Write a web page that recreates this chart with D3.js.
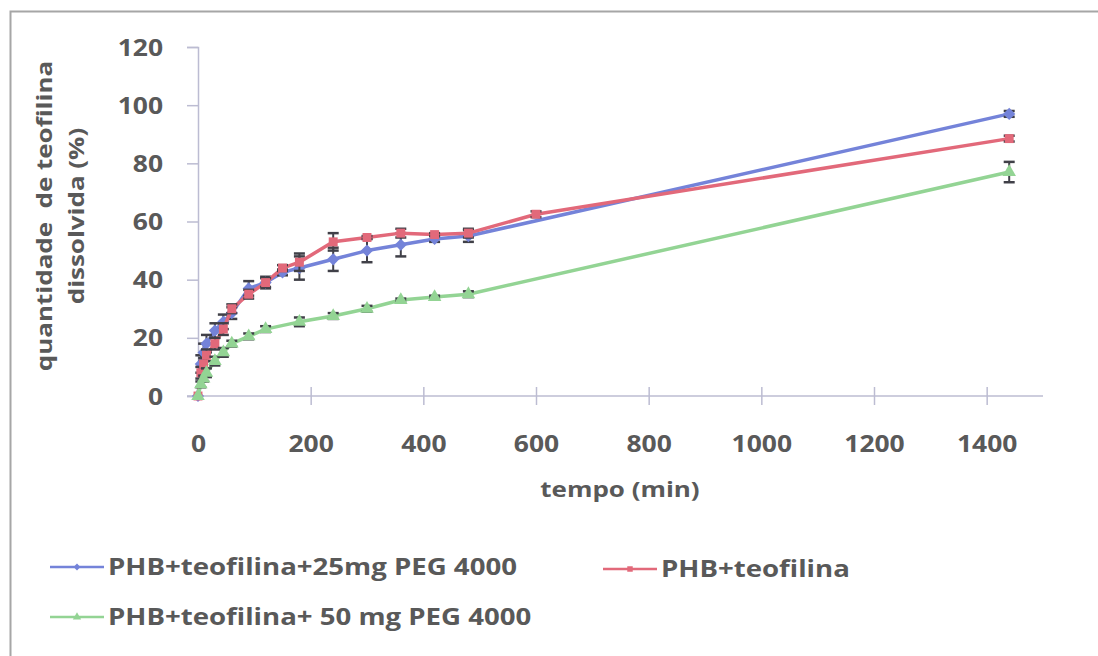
<!DOCTYPE html>
<html>
<head>
<meta charset="utf-8">
<script src="https://cdn.jsdelivr.net/npm/d3@7"></script>
<style>
  html, body { margin: 0; padding: 0; background: #fff; }
  svg { display: block; }
  text { font-family: "Open Sans", "Liberation Sans", sans-serif; font-weight: 700; fill: #595959; }
</style>
</head>
<body>
<svg id="chart" width="1098" height="656"></svg>
<script>
// Dissolution profiles: sampling times (min) and % theophylline dissolved
const timesBlue  = [0, 5, 10, 15, 30, 45, 60, 90, 120, 150, 180, 240, 300, 360, 420, 480, 1440];
const valuesBlue = [0, 11, 15, 18, 22.5, 25.5, 28.5, 37, 39, 42.5, 44, 47, 50, 52, 54, 55, 97];
const errBlue    = [0, 3, 3, 3, 2.5, 2.5, 2, 2.5, 2, 1, 4, 4, 4, 4, 1, 2, 1];

const timesRed  = [0, 5, 10, 15, 30, 45, 60, 90, 120, 150, 180, 240, 300, 360, 420, 480, 600, 1440];
const valuesRed = [0, 8, 11, 14, 18, 23, 30, 35, 39, 44, 46, 53, 54.5, 56, 55.5, 56, 62.5, 88.5];
const errRed    = [0, 2, 2, 2, 2, 2, 1.5, 1.5, 1.5, 1, 3, 3, 0.5, 1.5, 0.5, 1.5, 1, 1];

const timesGreen  = [0, 5, 10, 15, 30, 45, 60, 90, 120, 180, 240, 300, 360, 420, 480, 1440];
const valuesGreen = [0, 4, 6, 8, 12, 15, 18, 20.5, 23, 25.5, 27.5, 30, 33, 34, 35, 77];
const errGreen    = [0, 1, 1, 1.5, 1.5, 1.5, 1, 1, 1, 1.5, 1, 1, 0.5, 0.5, 1, 3.5];

const seriesNames = ["PHB+teofilina+25mg PEG 4000", "PHB+teofilina", "PHB+teofilina+ 50 mg PEG 4000"];
const xTicks = [0, 200, 400, 600, 800, 1000, 1200, 1400];
const yTicks = [0, 20, 40, 60, 80, 100, 120];
const xTitle = "tempo (min)";
const yTitleLines = ["quantidade\u00a0 de teofilina", "dissolvida (%)"];

const series = [
  { name: seriesNames[0], t: timesBlue,  v: valuesBlue,  e: errBlue,  color: "#7483d9", shape: d3.symbolDiamond2, size: 95 },
  { name: seriesNames[1], t: timesRed,   v: valuesRed,   e: errRed,   color: "#e2697a", shape: d3.symbolSquare,  size: 80 },
  { name: seriesNames[2], t: timesGreen, v: valuesGreen, e: errGreen, color: "#93d494", shape: d3.symbolTriangle, size: 80 }
];

const svg = d3.select("#chart");
const axisColor = "#bcbcd2";
const errColor = "#404048";
const stretch = 1.15;   // wide lettering

// outer frame
svg.append("rect")
  .attr("x", 10.5).attr("y", 11.5)
  .attr("width", 1100).attr("height", 700)
  .attr("fill", "#fff").attr("stroke", "#a6a6a6").attr("stroke-width", 2);

const x = d3.scaleLinear().domain([0, 1500]).range([198, 1043]);
const y = d3.scaleLinear().domain([0, 120]).range([396, 47]);
const fmt = d3.format("d");

// y axis
const yAxis = svg.append("g").attr("transform", `translate(${x(0)},0)`)
  .call(d3.axisLeft(y).tickValues(yTicks).tickFormat(fmt).tickSize(11));
yAxis.select(".domain").attr("stroke", axisColor).attr("stroke-width", 1.5);
yAxis.selectAll(".tick line").attr("stroke", axisColor).attr("stroke-width", 1.5);
yAxis.selectAll(".tick text")
  .attr("x", 0).attr("dy", "0.35em")
  .attr("transform", `translate(-35,0) scale(${stretch},1)`)
  .style("font-size", "23px").attr("fill", "#595959");

// x axis line spans from the y tick ends to the right of the domain
svg.append("line")
  .attr("x1", x(0) - 11).attr("x2", x(1500))
  .attr("y1", y(0)).attr("y2", y(0))
  .attr("stroke", axisColor).attr("stroke-width", 1.5);
const xAxis = svg.append("g").attr("transform", `translate(0,${y(0)})`)
  .call(d3.axisBottom(x).tickValues(xTicks).tickFormat(fmt).tickSize(9));
xAxis.select(".domain").remove();
xAxis.selectAll(".tick line")
  .attr("y1", -9)
  .attr("stroke", axisColor).attr("stroke-width", 1.5)
  .attr("display", d => d === 0 ? "none" : null);
xAxis.selectAll(".tick text")
  .attr("y", 0).attr("dy", "0.35em")
  .attr("transform", `translate(0,48) scale(${stretch},1)`)
  .style("font-size", "23px").attr("fill", "#595959");

// axis titles
svg.append("text")
  .attr("transform", `translate(620,497) scale(${stretch + 0.03},1)`)
  .attr("text-anchor", "middle")
  .style("font-size", "22px")
  .text(xTitle);

yTitleLines.forEach((line, i) => {
  svg.append("text")
    .attr("transform", `translate(${52 + i * 32},216) rotate(-90) scale(${stretch + 0.03},1)`)
    .attr("text-anchor", "middle")
    .style("font-size", "22px")
    .text(line);
});

// series: line, error bars, markers
const lineGen = d3.line().x(d => x(d[0])).y(d => y(d[1]));
series.forEach(s => {
  const pts = s.t.map((t, i) => [t, s.v[i], s.e[i]]);
  svg.append("path")
    .datum(pts)
    .attr("d", lineGen)
    .attr("fill", "none")
    .attr("stroke", s.color)
    .attr("stroke-width", 3.5)
    .attr("stroke-linejoin", "round");

  const eb = svg.append("g");
  pts.filter(d => d[2] > 0).forEach(d => {
    const cx = x(d[0]);
    const yt = y(d[1] + d[2]), yb = y(d[1] - d[2]);
    eb.append("line").attr("x1", cx).attr("x2", cx).attr("y1", yt).attr("y2", yb)
      .attr("stroke", errColor).attr("stroke-width", 2);
    [yt, yb].forEach(yy => eb.append("line")
      .attr("x1", cx - 5.5).attr("x2", cx + 5.5).attr("y1", yy).attr("y2", yy)
      .attr("stroke", errColor).attr("stroke-width", 2.5));
  });

  svg.append("g").selectAll("path")
    .data(pts)
    .join("path")
    .attr("transform", d => `translate(${x(d[0])},${y(d[1])})`)
    .attr("d", d3.symbol().type(s.shape).size(s.size))
    .attr("fill", s.color);
});

// legend
const legendItems = [
  { s: series[0], x0: 50, y0: 567 },
  { s: series[1], x0: 603, y0: 569 },
  { s: series[2], x0: 50, y0: 617 }
];
legendItems.forEach(({ s, x0, y0 }) => {
  svg.append("line")
    .attr("x1", x0).attr("x2", x0 + 54).attr("y1", y0).attr("y2", y0)
    .attr("stroke", s.color).attr("stroke-width", 2.5);
  svg.append("path")
    .attr("transform", `translate(${x0 + 27},${y0})`)
    .attr("d", d3.symbol().type(s.shape).size(30))
    .attr("fill", s.color);
  svg.append("text")
    .attr("transform", `translate(${x0 + 58},${y0}) scale(${stretch + 0.05},1)`)
    .attr("dy", "0.35em")
    .style("font-size", "23px")
    .text(s.name);
});
</script>
</body>
</html>
